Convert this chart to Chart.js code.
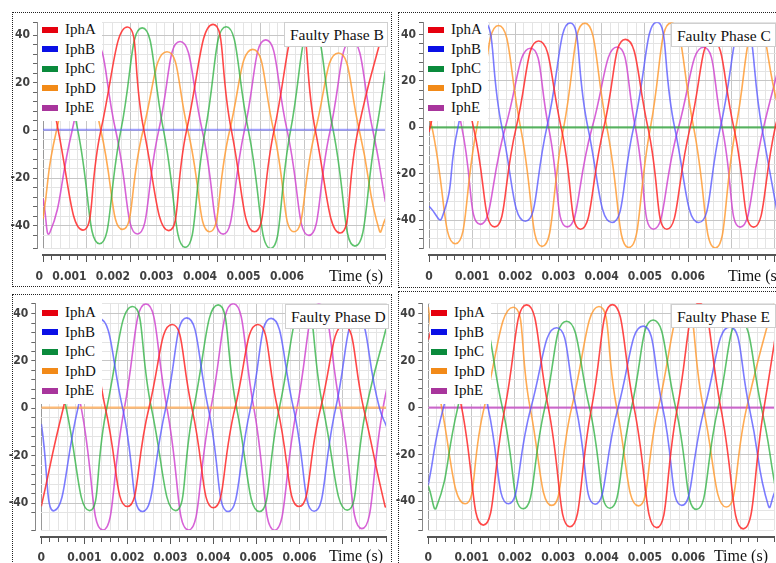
<!DOCTYPE html>
<html>
<head>
<meta charset="utf-8">
<title>Phase currents under single-phase faults</title>
<script src="https://cdn.jsdelivr.net/npm/chart.js@4.4.1/dist/chart.umd.min.js"></script>
<style>
  html, body { margin: 0; padding: 0; background: #fff; }
  body { width: 776px; height: 563px; position: relative; overflow: hidden; }
  canvas { position: absolute; }
  .frame { position: absolute; border: 1px dotted #222; box-sizing: border-box; pointer-events: none; }
  .legend { position: absolute; background: #fff; padding: 4px 6px 3px 1px; font: 15px 'Liberation Serif', 'Times New Roman', serif; color: #111; }
  .legend .item { display: flex; align-items: center; height: 19.5px; white-space: nowrap; }
  .legend .sw { width: 16px; height: 6px; margin-right: 7px; }
  .tag { position: absolute; box-sizing: border-box; background: #fff; border: 1px solid #cfcfcf; font: 15.5px 'Liberation Serif', 'Times New Roman', serif; color: #111; line-height: 23px; padding-left: 5px; white-space: nowrap; }
  .time { position: absolute; font: 16px 'Liberation Serif', 'Times New Roman', serif; color: #111; line-height: 20px; white-space: nowrap; }
</style>
</head>
<body>
<script>
const phaseNames = ['IphA', 'IphB', 'IphC', 'IphD', 'IphE'];
const timeLabels = ['0', '0.001', '0.002', '0.003', '0.004', '0.005', '0.006'];
const currentLabels = [40, 20, 0, -20, -40];

// [time in ms, current]: peaks, troughs and zero crossings

// Faulty Phase B
const bA = [[0, 43], [0.35, 0], [0.92, -41.8], [1.33, 0], [1.94, 43.4], [2.32, 0], [2.89, -42], [3.30, 0], [3.91, 44.5], [4.33, 0], [4.86, -42.5], [5.31, 0], [5.88, 44.5], [6.26, 0], [6.83, -43], [7.24, 0], [7.85, 44.5]];
const bB = [[0, 0.3], [7.9, 0.3]];
const bC = [[0, 25], [0.31, 43], [0.80, 0], [1.30, -47.5], [1.79, 0], [2.28, 43], [2.77, 0], [3.27, -49], [3.73, 0], [4.21, 43.5], [4.72, 0], [5.23, -49.5], [5.69, 0], [6.18, 43], [6.67, 0], [7.17, -48.5], [7.66, 0], [7.87, 25]];
const bD = [[0, -37], [0.31, 0], [0.88, 33], [1.33, 0], [1.83, -41.5], [2.30, 0], [2.85, 33], [3.33, 0], [3.83, -42.5], [4.29, 0], [4.82, 34], [5.30, 0], [5.77, -42.5], [6.26, 0], [6.79, 32.5], [7.27, 0], [7.73, -42], [7.87, -37]];
const bE = [[0, -28.5], [0.16, -42.7], [0.67, 0], [1.18, 37], [1.67, 0], [2.17, -43.4], [2.66, 0], [3.15, 37.3], [3.66, 0], [4.14, -43.5], [4.63, 0], [5.12, 38], [5.61, 0], [6.11, -44], [6.60, 0], [7.09, 37.5], [7.58, 0], [7.87, -30]];

// Faulty Phase C
const cA = [[0, -2], [0.53, 37], [1.03, 0], [1.52, -42.9], [2.02, 0], [2.54, 37.2], [3.06, 0], [3.51, -43.9], [4.05, 0], [4.55, 37.9], [5.07, 0], [5.51, -43.9], [6.05, 0], [6.56, 37.5], [7.06, 0], [7.52, -43], [8.02, 0], [8.06, 3]];
const cB = [[0, -34], [0.30, -39], [0.67, 0], [1.27, 45], [1.69, 0], [2.23, -40.5], [2.73, 0], [3.27, 45], [3.68, 0], [4.24, -41], [4.74, 0], [5.28, 45.3], [5.69, 0], [6.25, -41], [6.75, 0], [7.29, 44.5], [7.71, 0], [8.06, -36]];
const cC = [[0, 0], [8.3, 0]];
const cD = [[0, 4], [0.07, 0], [0.61, -50.2], [1.11, 0], [1.61, 43.9], [2.12, 0], [2.62, -51.3], [3.12, 0], [3.61, 44.9], [4.12, 0], [4.63, -51.8], [5.13, 0], [5.61, 45], [6.13, 0], [6.63, -52], [7.11, 0], [7.60, 44], [8.06, 11]];
const cE = [[0, 17], [0.34, 34], [0.76, 0], [1.19, -41.8], [1.77, 0], [2.35, 34.1], [2.77, 0], [3.20, -42.9], [3.78, 0], [4.36, 34.6], [4.78, 0], [5.20, -43.9], [5.78, 0], [6.36, 34.5], [6.79, 0], [7.21, -43], [7.75, 0], [8.06, 23]];

// Faulty Phase D
const dA = [[0, -41.4], [0.51, 0], [1.04, 35], [1.49, 0], [2.00, -41.5], [2.50, 0], [3.04, 35.4], [3.50, 0], [4.00, -42], [4.50, 0], [5.03, 35.4], [5.49, 0], [5.99, -41.5], [6.49, 0], [7.03, 35], [7.49, 0], [7.99, -41.5], [8.03, -41.3]];
const dB = [[0, -6.6], [0.31, -43.2], [0.85, 0], [1.35, 37.8], [1.89, 0], [2.35, -43.6], [2.89, 0], [3.38, 38.2], [3.88, 0], [4.34, -43.6], [4.86, 0], [5.34, 38], [5.86, 0], [6.34, -43.5], [6.84, 0], [7.34, 38], [7.86, 0], [8.03, -8]];
const dC = [[0, 40], [0.12, 43], [0.58, 0], [1.12, -43.2], [1.52, 0], [2.12, 43], [2.56, 0], [3.12, -43.2], [3.54, 0], [4.11, 43.7], [4.54, 0], [5.07, -43.6], [5.53, 0], [6.11, 43.5], [6.55, 0], [7.11, -43], [7.55, 0], [8.03, 35]];
const dD = [[0, 0.3], [8.1, 0.3]];
const dE = [[0, 10], [0.43, 44], [0.93, 0], [1.43, -51.4], [1.93, 0], [2.43, 44.1], [2.92, 0], [3.42, -51.4], [3.94, 0], [4.46, 44.2], [4.94, 0], [5.42, -51.5], [5.94, 0], [6.45, 44], [6.95, 0], [7.45, -50.8], [7.94, 0], [8.03, 8.5]];

// Faulty Phase E
const eA = [[0, 29], [0.27, 44], [0.77, 0], [1.27, -50.2], [1.77, 0], [2.27, 43.9], [2.77, 0], [3.27, -50.9], [3.77, 0], [4.25, 44], [4.75, 0], [5.27, -51.3], [5.75, 0], [6.25, 44.6], [6.75, 0], [7.27, -51.8], [7.75, 0], [8.0, 29]];
const eB = [[0, -33], [0.35, 0], [0.96, 34], [1.38, 0], [1.85, -41.1], [2.37, 0], [2.96, 34.1], [3.41, 0], [3.85, -41.3], [4.38, 0], [4.96, 34.8], [5.41, 0], [5.85, -41.8], [6.38, 0], [6.96, 34.5], [7.41, 0], [7.85, -42], [8.0, -36]];
const eC = [[0, -33.5], [0.19, -42.5], [0.68, 0], [1.19, 37], [1.71, 0], [2.19, -43.2], [2.69, 0], [3.19, 36.9], [3.72, 0], [4.19, -43], [4.69, 0], [5.19, 37.4], [5.71, 0], [6.19, -43.5], [6.69, 0], [7.19, 37], [7.69, 0], [8.0, -33]];
const eD = [[0, 43], [0.31, 0], [0.85, -41.1], [1.29, 0], [1.96, 42.9], [2.35, 0], [2.85, -41.8], [3.31, 0], [3.94, 43.2], [4.35, 0], [4.85, -42], [5.31, 0], [5.92, 43.3], [6.35, 0], [6.88, -42.5], [7.35, 0], [7.96, 43.9], [8.0, 43.8]];
const eE = [[0, 0], [8.0, 0]];

const swatchColors = ['#e6000e', '#0a10e6', '#0a8a3c', '#f28a18', '#a8359c'];
const lineColors = ['rgba(255,40,40,0.85)', 'rgba(80,80,255,0.75)', 'rgba(40,175,60,0.75)', 'rgba(255,150,40,0.8)', 'rgba(205,60,205,0.8)'];
const flatColors = ['rgba(255,60,60,0.6)', 'rgba(100,100,255,0.6)', 'rgba(60,170,70,0.8)', 'rgba(255,175,95,0.85)', 'rgba(200,80,200,0.8)'];

const panels = [
  { tag: 'Faulty Phase B', series: [bA, bB, bC, bD, bE], flat: 1,
    frame: [12, 12, 380, 275], canvas: [2, 12, 391, 274],
    pad: { top: 3, right: 4, bottom: 6 }, ylW: 35,
    xMax: 0.00786, yMin: -49.3, yMax: 45.4, align: 'end', labelPad: 8,
    legend: [41, 16], tagBox: [284, 22, 104, 25], time: { right: 393, top: 266 } },
  { tag: 'Faulty Phase C', series: [cA, cB, cC, cD, cE], flat: 2,
    frame: [398, 12, 410, 276], canvas: [388, 12, 410, 274],
    pad: { top: 3, right: 12, bottom: 6 }, ylW: 35,
    xMax: 0.00827, yMin: -52, yMax: 45.3, align: 'center', labelPad: 8,
    legend: [427, 16], tagBox: [671, 23, 105, 24], time: { left: 728, top: 266 } },
  { tag: 'Faulty Phase D', series: [dA, dB, dC, dD, dE], flat: 3,
    frame: [12, 294, 380, 300], canvas: [2, 293, 391, 274],
    pad: { top: 5.3, right: 3.7, bottom: 5 }, ylW: 33.3,
    xMax: 0.00801, yMin: -51.4, yMax: 44.4, align: 'center', labelPad: 7,
    legend: [41, 299], tagBox: [285, 304, 104, 25], time: { right: 393, top: 546 } },
  { tag: 'Faulty Phase E', series: [eA, eB, eC, eD, eE], flat: 4,
    frame: [398, 291, 410, 300], canvas: [388, 293, 400, 274],
    pad: { top: 5.3, right: 14, bottom: 5 }, ylW: 34.3,
    xMax: 0.00798, yMin: -52.3, yMax: 44.6, align: 'center', labelPad: 7,
    legend: [430, 299], tagBox: [671, 304, 105, 24], time: { right: 8, top: 546 } }
];

const tickFont = { family: "'Liberation Sans Narrow', 'DejaVu Sans Condensed', 'Liberation Sans', sans-serif", size: 12, weight: 'bold' };
const isMajorX = v => Math.abs(v * 1000 - Math.round(v * 1000)) < 1e-6;
const isMajorY = v => Math.abs(v % 20) < 1e-9;

function place(el, left, top, w, h) {
  el.style.left = left + 'px';
  el.style.top = top + 'px';
  if (w !== undefined) el.style.width = w + 'px';
  if (h !== undefined) el.style.height = h + 'px';
}

function buildPanel(p) {
  const cv = document.createElement('canvas');
  cv.width = p.canvas[2];
  cv.height = p.canvas[3];
  place(cv, p.canvas[0], p.canvas[1], p.canvas[2], p.canvas[3]);
  document.body.appendChild(cv);

  const datasets = p.series.map((s, i) => ({
    label: phaseNames[i],
    data: s.map(d => ({ x: d[0] / 1000, y: d[1] })),
    borderColor: i === p.flat ? flatColors[i] : lineColors[i],
    borderWidth: i === p.flat ? 2.2 : 1.6,
    pointRadius: 0,
    tension: 0.55,
    fill: false
  }));

  new Chart(cv, {
    type: 'line',
    data: { datasets },
    options: {
      responsive: false,
      animation: false,
      events: [],
      layout: { padding: { left: 0, top: p.pad.top, right: p.pad.right, bottom: p.pad.bottom } },
      plugins: { legend: { display: false }, tooltip: { enabled: false } },
      scales: {
        x: {
          type: 'linear', position: 'bottom', weight: 0, min: 0, max: p.xMax,
          ticks: { display: false, stepSize: 0.0002 },
          grid: {
            color: ctx => ctx.tick.value === 0 ? '#999' : (isMajorX(ctx.tick.value) ? '#c6c6c6' : '#e4e4e4'),
            tickColor: 'transparent', tickLength: 7
          },
          border: { display: false },
          afterFit: s => { s.height = 7; }
        },
        xl: {
          type: 'linear', position: 'bottom', weight: 1, min: 0, max: p.xMax,
          ticks: {
            stepSize: 0.0002, autoSkip: false, maxRotation: 0, minRotation: 0,
            align: p.align, padding: p.labelPad, color: '#404040', font: tickFont,
            callback: v => timeLabels.find(l => Math.abs(Number(l) - v) < 1e-7) || ''
          },
          grid: {
            drawOnChartArea: false, tickLength: 7, tickColor: '#555', tickWidth: 1,
            tickBorderDash: ctx => isMajorX(ctx.tick.value) ? [] : [4, 20]
          },
          border: { display: true, color: '#555', width: 2 },
          afterFit: s => { s.height = 25; }
        },
        y: {
          type: 'linear', position: 'left', weight: 0, min: p.yMin, max: p.yMax,
          ticks: { display: false, stepSize: 4 },
          grid: {
            color: ctx => isMajorY(ctx.tick.value) ? '#c6c6c6' : '#e4e4e4',
            tickColor: 'transparent', tickLength: 6
          },
          border: { display: false },
          afterFit: s => { s.width = 6; }
        },
        yl: {
          type: 'linear', position: 'left', weight: 1, min: p.yMin, max: p.yMax,
          ticks: {
            stepSize: 4, autoSkip: false, padding: 3, color: '#404040', font: tickFont,
            callback: v => currentLabels.includes(v) ? String(v) : ''
          },
          grid: {
            drawOnChartArea: false, tickLength: 4, tickColor: '#666', tickWidth: 1
          },
          border: { display: true, color: '#888', width: 1 },
          afterFit: s => { s.width = p.ylW; }
        }
      }
    }
  });

  const lg = document.createElement('div');
  lg.className = 'legend';
  place(lg, p.legend[0], p.legend[1]);
  phaseNames.forEach((name, i) => {
    const row = document.createElement('div');
    row.className = 'item';
    const sw = document.createElement('span');
    sw.className = 'sw';
    sw.style.background = swatchColors[i];
    row.appendChild(sw);
    row.appendChild(document.createTextNode(name));
    lg.appendChild(row);
  });
  document.body.appendChild(lg);

  const tag = document.createElement('div');
  tag.className = 'tag';
  tag.textContent = p.tag;
  place(tag, p.tagBox[0], p.tagBox[1], p.tagBox[2], p.tagBox[3]);
  document.body.appendChild(tag);

  const tm = document.createElement('div');
  tm.className = 'time';
  tm.textContent = 'Time (s)';
  tm.style.top = p.time.top + 'px';
  if (p.time.right !== undefined) tm.style.right = p.time.right + 'px';
  else tm.style.left = p.time.left + 'px';
  document.body.appendChild(tm);

  const fr = document.createElement('div');
  fr.className = 'frame';
  place(fr, p.frame[0], p.frame[1], p.frame[2], p.frame[3]);
  document.body.appendChild(fr);
}

panels.forEach(buildPanel);
</script>
</body>
</html>
